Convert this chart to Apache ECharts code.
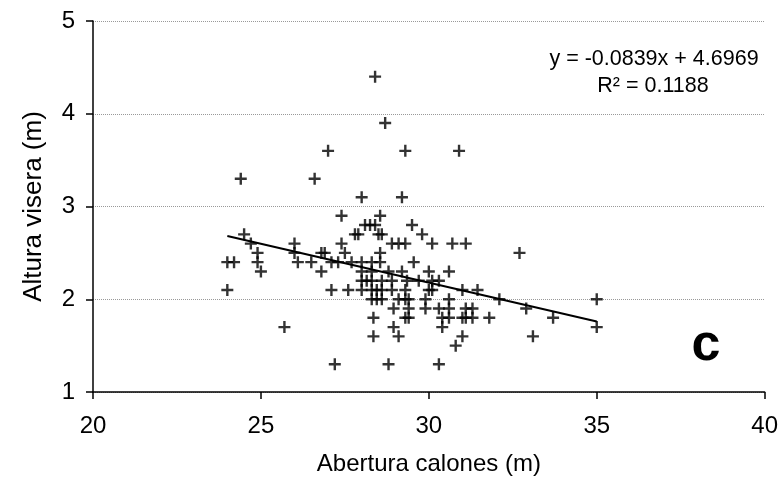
<!DOCTYPE html>
<html><head><meta charset="utf-8">
<script src="https://cdn.jsdelivr.net/npm/echarts/dist/echarts.min.js"></script>
<style>html,body{margin:0;padding:0;background:#fff}#c{width:781px;height:482px}</style>
</head><body><div id="c"></div>
<script>
// Abertura calones (m)
const xValues = [
 24.0,24.0,24.2,24.4,24.5,24.7,24.9,24.9,25.0,25.7,
 26.0,26.0,26.1,26.5,26.6,26.8,26.9,26.8,27.0,27.1,27.1,27.2,27.3,27.4,27.4,27.5,27.6,27.7,27.8,27.9,28.0,28.0,28.0,28.0,28.0,
 28.1,28.25,28.4,28.15,28.3,28.3,28.3,28.3,28.3,28.35,28.35,28.4,28.45,28.45,28.5,28.55,28.55,28.55,28.6,28.6,28.6,28.6,28.7,28.8,28.8,
 28.9,28.9,28.9,28.95,28.95,29.1,29.1,29.1,29.2,29.2,29.3,29.3,29.3,29.3,29.3,29.35,29.4,29.4,29.4,29.5,29.55,29.8,29.7,29.9,29.9,
 30.0,30.0,30.1,30.1,30.1,30.3,30.3,30.3,30.4,30.4,30.6,30.6,30.6,30.6,30.7,30.8,30.9,31.0,31.0,31.0,31.1,31.1,31.1,31.3,31.3,31.45,
 31.8,32.1,32.7,32.9,33.1,33.7,35.0,35.0
];
// Altura visera (m)
const yValues = [
 2.1,2.4,2.4,3.3,2.7,2.6,2.5,2.4,2.3,1.7,
 2.6,2.5,2.4,2.4,3.3,2.5,2.5,2.3,3.6,2.4,2.1,1.3,2.4,2.9,2.6,2.5,2.1,2.4,2.7,2.7,3.1,2.4,2.3,2.2,2.1,
 2.8,2.8,2.8,2.2,2.4,2.3,2.2,2.1,2.0,1.8,1.6,4.4,2.1,2.0,2.7,2.9,2.5,2.4,2.7,2.2,2.1,2.0,3.9,2.3,1.3,
 2.6,2.2,2.1,1.9,1.7,2.6,2.0,1.6,3.1,2.3,2.6,3.6,2.1,2.0,1.8,2.2,2.0,1.9,1.8,2.8,2.4,2.7,2.2,2.0,1.9,
 2.3,2.1,2.6,2.2,2.1,2.2,1.9,1.3,1.8,1.7,2.3,2.0,1.9,1.8,2.6,1.5,3.6,2.1,1.8,1.6,1.9,1.8,2.6,1.9,1.8,2.1,
 1.8,2.0,2.5,1.9,1.6,1.8,2.0,1.7
];
// Linear trend line endpoints (y = -0.0839x + 4.6969)
const trendX = [24, 35];
const trendY = [2.683, 1.760];
const equationText = 'y = -0.0839x + 4.6969';
const r2Text = 'R² = 0.1188';
const panelLabel = 'c';

const FONT = '"Liberation Sans", Arial, sans-serif';
const chart = echarts.init(document.getElementById('c'), null, {renderer: 'canvas'});
const pts = xValues.map((x, i) => [x, yValues[i]]);
const plus = 'path://M4,0H6V4H10V6H6V10H4V6H0V4H4Z';

chart.setOption({
  animation: false,
  backgroundColor: '#fff',
  grid: {left: 93, right: 16, top: 21, bottom: 90, containLabel: false},
  xAxis: {
    type: 'value', min: 20, max: 40, interval: 5,
    name: 'Abertura calones (m)', nameLocation: 'middle', nameGap: 60,
    nameTextStyle: {fontFamily: FONT, fontSize: 24, color: '#000'},
    axisLine: {show: true, onZero: false, lineStyle: {color: '#000', width: 1.5}},
    axisTick: {show: true, inside: false, length: 7, lineStyle: {color: '#000', width: 1.5}},
    axisLabel: {fontFamily: FONT, fontSize: 24, color: '#000', margin: 22},
    splitLine: {show: false}
  },
  yAxis: {
    type: 'value', min: 1, max: 5, interval: 1,
    name: 'Altura visera (m)', nameLocation: 'middle', nameGap: 46,
    nameTextStyle: {fontFamily: FONT, fontSize: 26, color: '#000'},
    axisLine: {show: true, onZero: false, lineStyle: {color: '#000', width: 1.5}},
    axisTick: {show: true, inside: false, length: 7, lineStyle: {color: '#000', width: 1.5}},
    axisLabel: {fontFamily: FONT, fontSize: 24, color: '#000', margin: 18},
    splitLine: {show: true, lineStyle: {color: '#999', width: 1, type: [1, 1]}}
  },
  series: [
    {
      type: 'scatter', data: pts, symbol: plus, symbolSize: 12,
      itemStyle: {color: '#000'}, silent: true, z: 3
    },
    {
      type: 'line', data: trendX.map((x, i) => [x, trendY[i]]),
      showSymbol: false, symbol: 'none',
      lineStyle: {color: '#000', width: 2}, silent: true, z: 4
    }
  ],
  graphic: [
    {type: 'text', x: 654, y: 59, style: {text: equationText, font: '21.5px ' + FONT, fill: '#000', align: 'center', verticalAlign: 'middle'}},
    {type: 'text', x: 653, y: 86, style: {text: r2Text, font: '21.5px ' + FONT, fill: '#000', align: 'center', verticalAlign: 'middle'}},
    {type: 'text', x: 706, y: 346, style: {text: panelLabel, font: 'bold 52px ' + FONT, fill: '#000', align: 'center', verticalAlign: 'middle'}}
  ]
});
</script></body></html>
